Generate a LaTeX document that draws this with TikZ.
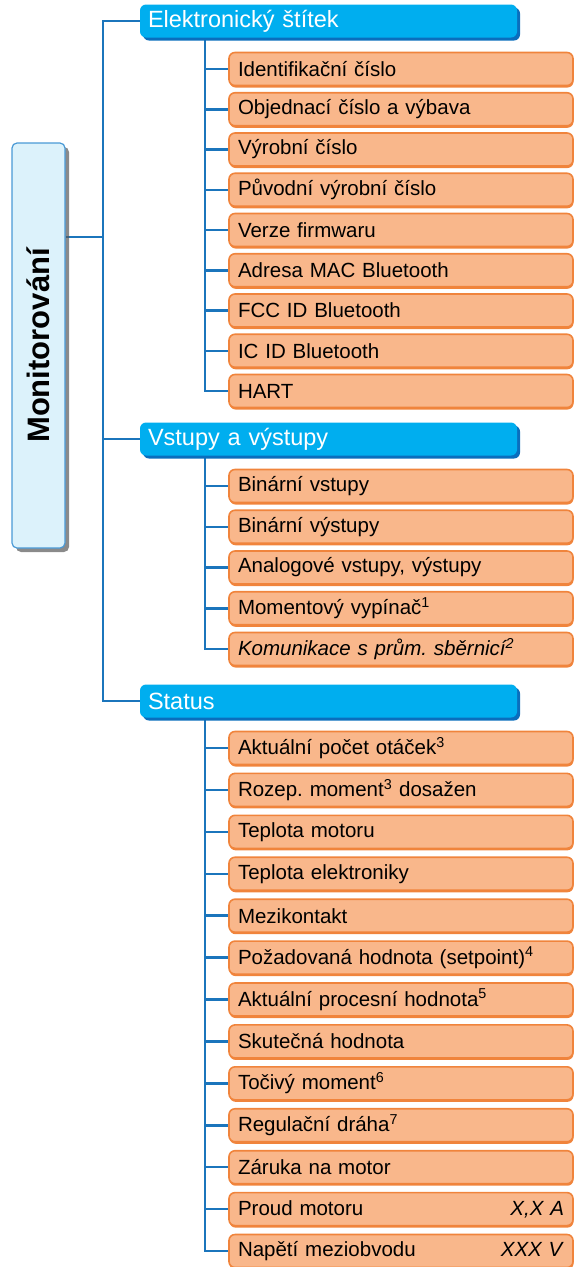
\documentclass[tikz,border=0pt]{standalone}
\usepackage{fontspec}
\setmainfont{Liberation Sans}
\usepackage{xcolor}
\usepackage{tikz}
\usetikzlibrary{positioning,shadows,backgrounds}
\frenchspacing

\definecolor{linkblue}{HTML}{1B75BC}
\definecolor{headfill}{HTML}{00AEEF}
\definecolor{headshade}{HTML}{0A6EBD}
\definecolor{leaffill}{HTML}{F9B78B}
\definecolor{leafedge}{HTML}{F0843C}
\definecolor{rootfill}{HTML}{DCF2FB}
\definecolor{rootedge}{HTML}{4A9AD6}

\begin{document}
\begin{tikzpicture}[x=1pt, y=-1pt,
  root/.style={rectangle, rounded corners=5pt, draw=rootedge, line width=1.2pt,
               fill=rootfill, minimum width=53pt, minimum height=405pt, inner sep=0pt,
               drop shadow={shadow xshift=4pt, shadow yshift=-4pt, fill=black!65, opacity=.7},
               font=\bfseries\fontsize{31}{36}\selectfont},
  head/.style={rectangle, rounded corners=6pt, fill=headfill, text=white,
               minimum height=33pt, text width=361pt, inner xsep=8pt, inner ysep=0pt,
               align=left,
               drop shadow={shadow xshift=3pt, shadow yshift=-3pt, fill=headshade, opacity=1},
               font=\fontsize{23.5}{27}\selectfont},
  leaf/.style={rectangle, rounded corners=6pt, draw=leafedge, line width=1.6pt,
               fill=leaffill, minimum height=33pt, text width=326pt, inner xsep=9pt,
               inner ysep=0pt, align=left,
               drop shadow={shadow xshift=.5pt, shadow yshift=-2pt, fill=leafedge, opacity=1},
               font=\fontsize{20.5}{24}\selectfont},
  link/.style={line width=2.5pt, linkblue}
]
  \useasboundingbox (0,0) rectangle (575,1267);

  \node[root] (root) at (38.5,345.5) {\rotatebox{90}{Monitorování}};

  % first level
  \node[head] (elek)   at (328.5,21)  {Elektronický štítek};
  \node[head] (vstup)  at (328.5,439) {Vstupy a výstupy};
  \node[head] (status) at (328.5,701) {Status};

  % electronic label
  \node[leaf] (idc)  at (401,69)     {Identifikační číslo};
  \node[leaf] (obj)  at (401,109.25) {Objednací číslo a výbava};
  \node[leaf] (vyr)  at (401,149.5)  {Výrobní číslo};
  \node[leaf] (puv)  at (401,189.75) {Původní výrobní číslo};
  \node[leaf] (fw)   at (401,230)    {Verze firmwaru};
  \node[leaf] (mac)  at (401,270.25) {Adresa MAC Bluetooth};
  \node[leaf] (fcc)  at (401,310.5)  {FCC ID Bluetooth};
  \node[leaf] (icid) at (401,350.75) {IC ID Bluetooth};
  \node[leaf] (hart) at (401,391)    {HART};

  % inputs and outputs
  \node[leaf] (binin)  at (401,486)    {Binární vstupy};
  \node[leaf] (binout) at (401,526.75) {Binární výstupy};
  \node[leaf] (analog) at (401,567.5)  {Analogové vstupy, výstupy};
  \node[leaf] (moment) at (401,608.25) {Momentový vypínač\textsuperscript{1}};
  \node[leaf] (komun)  at (401,649)    {\itshape Komunikace s prům. sběrnicí\textsuperscript{2}};

  % status
  \node[leaf] (otacky) at (401,748)     {Aktuální počet otáček\textsuperscript{3}};
  \node[leaf] (rozep)  at (401,789.9)   {Rozep. moment\textsuperscript{3} dosažen};
  \node[leaf] (tmot)   at (401,831.8)   {Teplota motoru};
  \node[leaf] (telek)  at (401,873.75)  {Teplota elektroniky};
  \node[leaf] (mezik)  at (401,915.7)   {Mezikontakt};
  \node[leaf] (zadana) at (401,957.6)   {Požadovaná hodnota (setpoint)\textsuperscript{4}};
  \node[leaf] (proces) at (401,999.5)   {Aktuální procesní hodnota\textsuperscript{5}};
  \node[leaf] (skut)   at (401,1041.4)  {Skutečná hodnota};
  \node[leaf] (tocivy) at (401,1083.3)  {Točivý moment\textsuperscript{6}};
  \node[leaf] (drah)   at (401,1125.25) {Regulační dráha\textsuperscript{7}};
  \node[leaf] (zaruka) at (401,1167.2)  {Záruka na motor};
  \node[leaf] (proud)  at (401,1209.1)  {Proud motoru\hfill\textit{X,X A}\hspace*{6pt}};
  \node[leaf] (napeti) at (401,1251)    {Napětí meziobvodu\hfill\textit{XXX V}\hspace*{6pt}};

  \coordinate (trunk) at (103,0);
  \coordinate (rootjoin) at (103,237);
  \coordinate (sub) at (205,0);

  \begin{scope}[on background layer]
    \draw[link] (root.east |- rootjoin) -- (rootjoin);
    \draw[link] (elek.west) -- (elek.west -| trunk) |- (status.west);
    \draw[link] (vstup.west) -- (vstup.west -| trunk);

    \draw[link] (elek.south -| sub) |- (hart.west);
    \draw[link] (idc.west) -- (idc.west -| sub);
    \draw[link] (obj.west) -- (obj.west -| sub);
    \draw[link] (vyr.west) -- (vyr.west -| sub);
    \draw[link] (puv.west) -- (puv.west -| sub);
    \draw[link] (fw.west) -- (fw.west -| sub);
    \draw[link] (mac.west) -- (mac.west -| sub);
    \draw[link] (fcc.west) -- (fcc.west -| sub);
    \draw[link] (icid.west) -- (icid.west -| sub);

    \draw[link] (vstup.south -| sub) |- (komun.west);
    \draw[link] (binin.west) -- (binin.west -| sub);
    \draw[link] (binout.west) -- (binout.west -| sub);
    \draw[link] (analog.west) -- (analog.west -| sub);
    \draw[link] (moment.west) -- (moment.west -| sub);

    \draw[link] (status.south -| sub) |- (napeti.west);
    \draw[link] (otacky.west) -- (otacky.west -| sub);
    \draw[link] (rozep.west) -- (rozep.west -| sub);
    \draw[link] (tmot.west) -- (tmot.west -| sub);
    \draw[link] (telek.west) -- (telek.west -| sub);
    \draw[link] (mezik.west) -- (mezik.west -| sub);
    \draw[link] (zadana.west) -- (zadana.west -| sub);
    \draw[link] (proces.west) -- (proces.west -| sub);
    \draw[link] (skut.west) -- (skut.west -| sub);
    \draw[link] (tocivy.west) -- (tocivy.west -| sub);
    \draw[link] (drah.west) -- (drah.west -| sub);
    \draw[link] (zaruka.west) -- (zaruka.west -| sub);
    \draw[link] (proud.west) -- (proud.west -| sub);
  \end{scope}
\end{tikzpicture}
\end{document}
